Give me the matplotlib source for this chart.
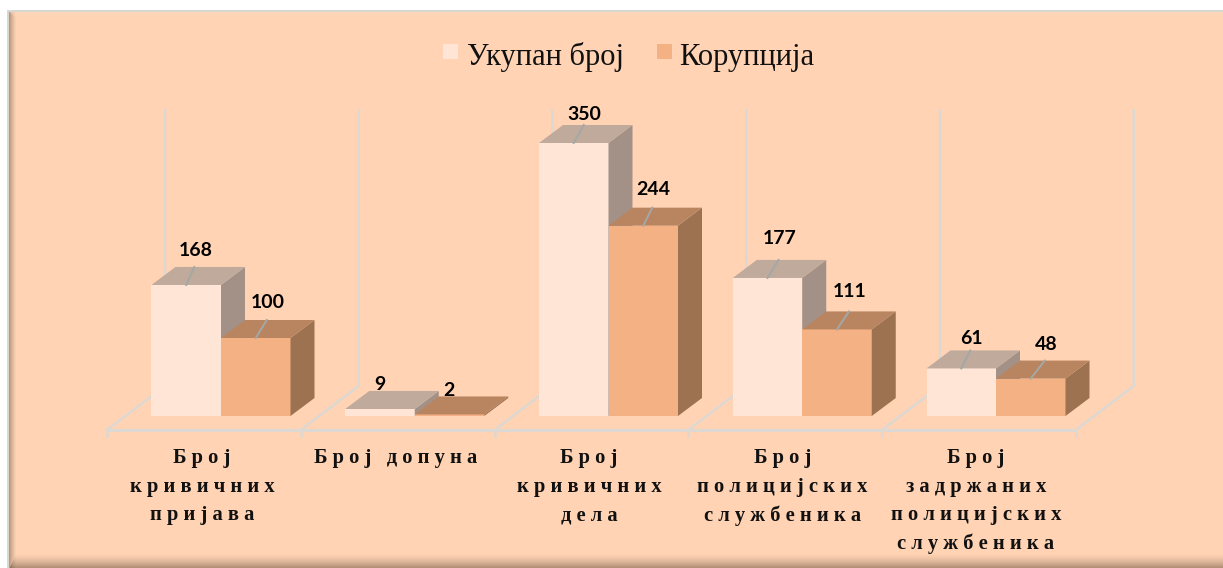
import numpy as np
import matplotlib
matplotlib.use('Agg')
import matplotlib.pyplot as plt
from matplotlib.patches import Polygon, Rectangle

# Podaci
kategorije = ['Број\nкривичних\nпријава', 'Број допуна', 'Број\nкривичних\nдела',
              'Број\nполицијских\nслужбеника', 'Број\nзадржаних\nполицијских\nслужбеника']
ukupno = [168, 9, 350, 177, 61]
korupcija = [100, 2, 244, 111, 48]
serije = ['Укупан број', 'Корупција']

# Raspored u pikselima
W, H = 1223, 568
x0, dxk = 221, 193.75      # sredina prve grupe, razmak grupa
y0, sy = 416, 0.78         # osnova stubica, pikseli po jedinici
bw = 69.5 / dxk            # sirina stubica
dub_x, dub_y = 24 / dxk, 18 / sy   # dubina (3D efekat)
pod = -14 / sy             # prednja ivica poda
zid_vrh = 392
levo = (107 - x0) / dxk

boje = [('#FEE5D6', '#A39187', '#C0AA9C'), ('#F4B183', '#9C7250', '#B98560')]
mreza = '#DDD8D2'
vodjica = '#A3A8A6'


def spaced(s):
    # razmak izmedju slova kao u originalu
    return '\n'.join(' '.join(r) for r in s.split('\n'))


fig = plt.figure(figsize=(W / 100, H / 100), dpi=100, facecolor='white')

# pozadina sa kosom ivicom
bg = fig.add_axes([0, 0, 1, 1])
bg.set_xlim(0, W)
bg.set_ylim(H, 0)
bg.axis('off')
bg.add_patch(Rectangle((7, 10), W - 7, H - 10, fc='#DAD6D2', ec='none', zorder=0))
slika = np.ones((H - 12, W - 9, 3)) * np.array([255, 211, 180]) / 255
for i in range(7):
    a = (1 - i / 7) ** 1.3
    slika[:, i] = slika[:, i] * (1 - 0.42 * a) + np.array([0.35, 0.28, 0.22]) * 0.42 * a
for i in range(14):
    a = (1 - i / 14) ** 1.5
    s = slika[-1 - i, i // 2 + 1:]
    slika[-1 - i, i // 2 + 1:] = s * (1 - 0.5 * a) + np.array([0.4, 0.3, 0.22]) * 0.5 * a
for i in range(8):
    a = 1 - i / 8
    slika[i, i + 1:] = slika[i, i + 1:] * (1 - 0.5 * a) + np.array([1, 0.86, 0.74]) * 0.5 * a
bg.imshow(slika, extent=(9, W, H, 12), aspect='auto', interpolation='nearest', zorder=1)
bg.set_xlim(0, W)
bg.set_ylim(H, 0)

# glavni grafik: x = grupa, y = vrednost
ax = fig.add_axes([0, 0, 1, 1])
ax.patch.set_alpha(0)
ax.set_xlim(-x0 / dxk, (W - x0) / dxk)
ax.set_ylim((y0 - H) / sy, y0 / sy)
ax.axis('off')

# zidovi i pod
for i in range(6):
    xl = levo + i
    ax.plot([xl, xl + 58 / dxk, xl + 58 / dxk], [pod, pod + 44 / sy, zid_vrh],
            color=mreza, lw=1.8, zorder=1, solid_joinstyle='miter')
    ax.plot([xl, xl], [pod, pod - 6 / sy], color=mreza, lw=1.8, zorder=1)
ax.plot([levo, levo + 5], [pod, pod], color=mreza, lw=2.2, zorder=1)

# stubici
for s, vrednosti in enumerate([ukupno, korupcija]):
    front, bok, vrh = boje[s]
    xs = np.arange(len(vrednosti)) + (s - 1) * bw
    ax.bar(xs, vrednosti, width=bw, align='edge', color=front, zorder=3 + s)
    for xl, v in zip(xs, vrednosti):
        xr = xl + bw
        ax.add_patch(Polygon([(xr, 0), (xr + dub_x, dub_y), (xr + dub_x, v + dub_y), (xr, v)],
                             fc=bok, ec='none', zorder=3 + s))
        ax.add_patch(Polygon([(xl, v), (xr, v), (xr + dub_x, v + dub_y), (xl + dub_x, v + dub_y)],
                             fc=vrh, ec='none', zorder=3 + s))

# oznake vrednosti i vodjice
pomak_x = [9, 12, 0, -1, 11, 10, 12, 13, 10, 15]
pomak_y = [34, 35, 24, 24, 29, 36, 39, 38, 30, 34]
sve = [(i, s, v) for i in range(5) for s, v in enumerate((ukupno[i], korupcija[i]))]
for k, (i, s, v) in enumerate(sve):
    xc = i + (s - 0.5) * bw
    if v > 20:
        ax.plot([xc, xc + (pomak_x[k] - 1) / dxk], [v, v + 18 / sy], color=vodjica, lw=1.4, zorder=6)
    ax.text(xc + pomak_x[k] / dxk, v + pomak_y[k] / sy, str(v), family='Lato', weight='bold',
            fontsize=14, color='black', ha='center', va='center', zorder=7)

# nazivi kategorija
sredine = [202, 396, 589, 782.5, 976]
for naziv, cx in zip(kategorije, sredine):
    ax.text((cx - x0) / dxk, (y0 - 448.5) / sy, spaced(naziv), family='Liberation Serif', weight='bold',
            fontsize=14.8, color='#111111', ha='center', va='top', linespacing=1.56, zorder=7)

# legenda
for ime, xk, xt, b in zip(serije, [443, 657], [467, 679], boje):
    bg.add_patch(Rectangle((xk, 44), 15, 15, fc=b[0], ec='none', zorder=3))
    bg.text(xt, 57, ime, family='Liberation Serif', fontsize=22, color='#111111', ha='left', va='center', zorder=3)

fig.savefig('out.png', dpi=100)
